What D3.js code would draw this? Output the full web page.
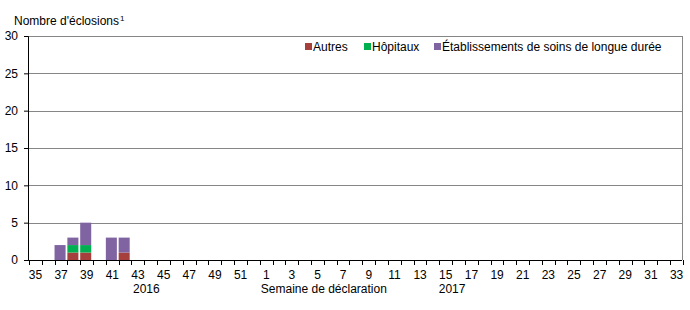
<!DOCTYPE html>
<html>
<head>
<meta charset="utf-8">
<script src="https://cdn.jsdelivr.net/npm/d3@7"></script>
<style>
  body { margin: 0; background: #fff; }
  text { font-family: "Liberation Sans", Arial, sans-serif; font-size: 12px; fill: #000; }
</style>
</head>
<body>
<div class="area"></div>
<script>
const width = 690
const height = 310
const margin = {top: 36, right: 8, bottom: 50, left: 28}
const gridColor = "#868686"

// weeks of declaration, 2016 then 2017
const weeks2016 = d3.range(35, 53).map(String)
const weeks2017 = d3.range(1, 34).map(String)
const weeks = weeks2016.map(w => "2016-" + w).concat(weeks2017.map(w => "2017-" + w))

// outbreaks by setting, same order as weeks
const autres =          [0,0,0,1,1,0,0,1]
const hopitaux =        [0,0,0,1,1,0,0,0]
const etablissements =  [0,0,2,1,3,0,3,2]

const seriesNames = ["Autres", "Hôpitaux", "Établissements de soins de longue durée"]
const seriesColors = ["#a5403d", "#00b050", "#8064a2"]
const yTicks = [0, 5, 10, 15, 20, 25, 30]

const rows = weeks.map((w, i) => ({
  week: w,
  "Autres": autres[i] || 0,
  "Hôpitaux": hopitaux[i] || 0,
  "Établissements de soins de longue durée": etablissements[i] || 0
}))

const w = width - margin.left - margin.right
const h = height - margin.top - margin.bottom

const svg = d3.select(".area")
  .append("svg")
  .attr("width", width)
  .attr("height", height)
  .append("g")
    .attr("transform", `translate(${margin.left}, ${margin.top})`)

const x = d3.scaleBand()
  .domain(weeks)
  .range([0, w])
  .paddingInner(0.14)
  .paddingOuter(0.07)

const y = d3.scaleLinear()
  .domain([0, 30])
  .range([h, 0])

// gridlines
svg.append("g")
  .selectAll("line")
  .data(yTicks.filter(d => d > 0))
  .join("line")
    .attr("x1", 0)
    .attr("x2", w)
    .attr("y1", d => Math.round(y(d)) + 0.5)
    .attr("y2", d => Math.round(y(d)) + 0.5)
    .attr("stroke", gridColor)

// right border
svg.append("line")
  .attr("x1", w + 0.5).attr("x2", w + 0.5)
  .attr("y1", 0).attr("y2", h)
  .attr("stroke", gridColor)

// stacked bars
const stack = d3.stack().keys(seriesNames)(rows)

svg.append("g")
  .selectAll("g")
  .data(stack)
  .join("g")
    .attr("fill", (d, i) => seriesColors[i])
  .selectAll("rect")
  .data(d => d.filter(s => s[1] > s[0]))
  .join("rect")
    .attr("x", d => x(d.data.week))
    .attr("width", x.bandwidth())
    .attr("y", d => y(d[1]))
    .attr("height", d => y(d[0]) - y(d[1]))

// y axis
const yAxis = svg.append("g")
  .call(d3.axisLeft(y).tickValues(yTicks).tickSize(4).tickPadding(6))
yAxis.select(".domain").attr("stroke", "#000")
yAxis.selectAll(".tick line").attr("stroke", "#000")
yAxis.selectAll("text").style("font-size", "12px").style("font-family", "Liberation Sans, Arial, sans-serif")

// x axis: ticks between categories, labels every other week
const step = x.step()
const x0 = x(weeks[0]) - x.paddingOuter() * step + x.paddingInner() * step / 2
const boundary = i => x0 + i * step

const xAxis = svg.append("g").attr("transform", `translate(0, ${h})`)
xAxis.append("line")
  .attr("x1", 0).attr("x2", w)
  .attr("y1", 0.5).attr("y2", 0.5)
  .attr("stroke", "#000")
xAxis.selectAll(".tk")
  .data(d3.range(weeks.length + 1))
  .join("line")
    .attr("class", "tk")
    .attr("x1", i => Math.round(boundary(i)) + 0.5)
    .attr("x2", i => Math.round(boundary(i)) + 0.5)
    .attr("y1", 0)
    .attr("y2", 5)
    .attr("stroke", "#000")
xAxis.selectAll(".lbl")
  .data(weeks.filter((d, i) => i % 2 === 0))
  .join("text")
    .attr("class", "lbl")
    .attr("x", d => x(d) + x.bandwidth() / 2 + 1)
    .attr("y", 19)
    .attr("text-anchor", "middle")
    .text(d => d.split("-")[1])

xAxis.append("text")
  .attr("x", boundary(weeks2016.length - 9) + 2)
  .attr("y", 33)
  .attr("text-anchor", "middle")
  .text("2016")
xAxis.append("text")
  .attr("x", boundary(weeks2016.length + 15))
  .attr("y", 33)
  .attr("text-anchor", "middle")
  .text("2017")
xAxis.append("text")
  .attr("x", boundary(weeks2016.length + 5))
  .attr("y", 33)
  .attr("text-anchor", "middle")
  .text("Semaine de déclaration")

// y title
const yTitle = svg.append("text")
  .attr("x", -14)
  .attr("y", -11)
yTitle.append("tspan").text("Nombre d'éclosions")
yTitle.append("tspan").attr("dx", 1).attr("dy", -4).style("font-size", "8px").text("1")

// legend
const legendX = [277, 336, 406]
const legend = svg.append("g")
  .selectAll("g")
  .data(seriesNames)
  .join("g")
    .attr("transform", (d, i) => `translate(${legendX[i]}, 10)`)
legend.append("rect")
  .attr("x", 0).attr("y", -3)
  .attr("width", 7).attr("height", 7)
  .attr("fill", (d, i) => seriesColors[i])
legend.append("text")
  .attr("x", 8)
  .attr("y", 5)
  .text(d => d)
</script>
</body>
</html>
